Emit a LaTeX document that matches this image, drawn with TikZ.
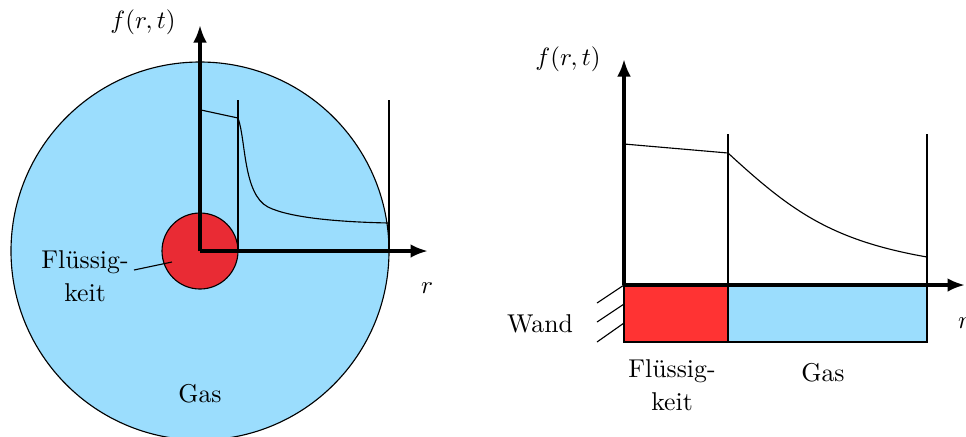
\documentclass[tikz,border=0pt]{standalone}
\usetikzlibrary{arrows.meta}
\definecolor{gasblue}{RGB}{155,221,253}
\definecolor{liqredA}{RGB}{233,43,52}
\definecolor{liqredB}{RGB}{255,51,51}
\tikzset{
  axis/.style={line width=1.6pt,-{Latex[length=7pt,width=5.5pt]}},
  thinline/.style={line width=0.45pt},
  lbl/.style={inner sep=0pt,font=\fontsize{10.3}{13}\selectfont},
}
\begin{document}
\begin{tikzpicture}[x=0.4pt,y=-0.4pt]
\useasboundingbox (0,0) rectangle (966,436);
% ---------- left: sphere ----------
\coordinate (O1) at (200,251);
\fill[gasblue] (O1) circle[radius=75.6pt];
\draw[thinline] (O1) circle[radius=75.6pt];
\filldraw[fill=liqredA,thinline] (O1) circle[radius=15.2pt];
\coordinate (v1a) at (238,100); \coordinate (v1b) at (238,251);
\coordinate (v2a) at (389,100); \coordinate (v2b) at (389,251);
\draw[thinline] (v1a) -- (v1b);
\draw[thinline] (v2a) -- (v2b);
\draw[thinline] (201,110) -- (238,118)
  .. controls (246,140) and (243,194) .. (268,207)
  .. controls (290,218) and (340,222) .. (389,223);
\coordinate (L1) at (172,262);
\node[lbl,align=center] (fl1) at (85,276) {Flüssig-\\keit};
\draw[thinline] (134,270) -- (L1);
\node[lbl] (gas1) at (200,394) {Gas};
\coordinate (Y1) at (200,25);
\coordinate (X1) at (428,251);
\draw[axis] (O1) -- (Y1);
\draw[axis] (O1) -- (X1);
\node[lbl] (f1) at (143,22) {$f(r,t)$};
\node[lbl] (r1) at (427,288) {$r$};
% ---------- right: plane ----------
\coordinate (O2) at (624,285);
\filldraw[fill=liqredB,thinline] (624,285) rectangle (728,342);
\filldraw[fill=gasblue,thinline] (728,285) rectangle (927,342);
\draw[thinline] (728,134) -- (728,285);
\draw[thinline] (927,134) -- (927,285);
\draw[thinline] (624,144) -- (728,153)
  .. controls (790,210) and (830,240) .. (927,257);
\draw[thinline] (624,285) -- (597,303);
\draw[thinline] (624,304) -- (597,322);
\draw[thinline] (624,323) -- (597,342);
\coordinate (Y2) at (624,59);
\coordinate (X2) at (965,285);
\draw[axis] (O2) -- (Y2);
\draw[axis] (O2) -- (X2);
\node[lbl] (f2) at (568,59) {$f(r,t)$};
\node[lbl] (wand) at (540,324) {Wand};
\node[lbl,align=center] (fl2) at (672,385) {Flüssig-\\keit};
\node[lbl] (gas2) at (823,373) {Gas};
\node[lbl] (r2) at (964,323) {$r$};
\end{tikzpicture}
\end{document}
